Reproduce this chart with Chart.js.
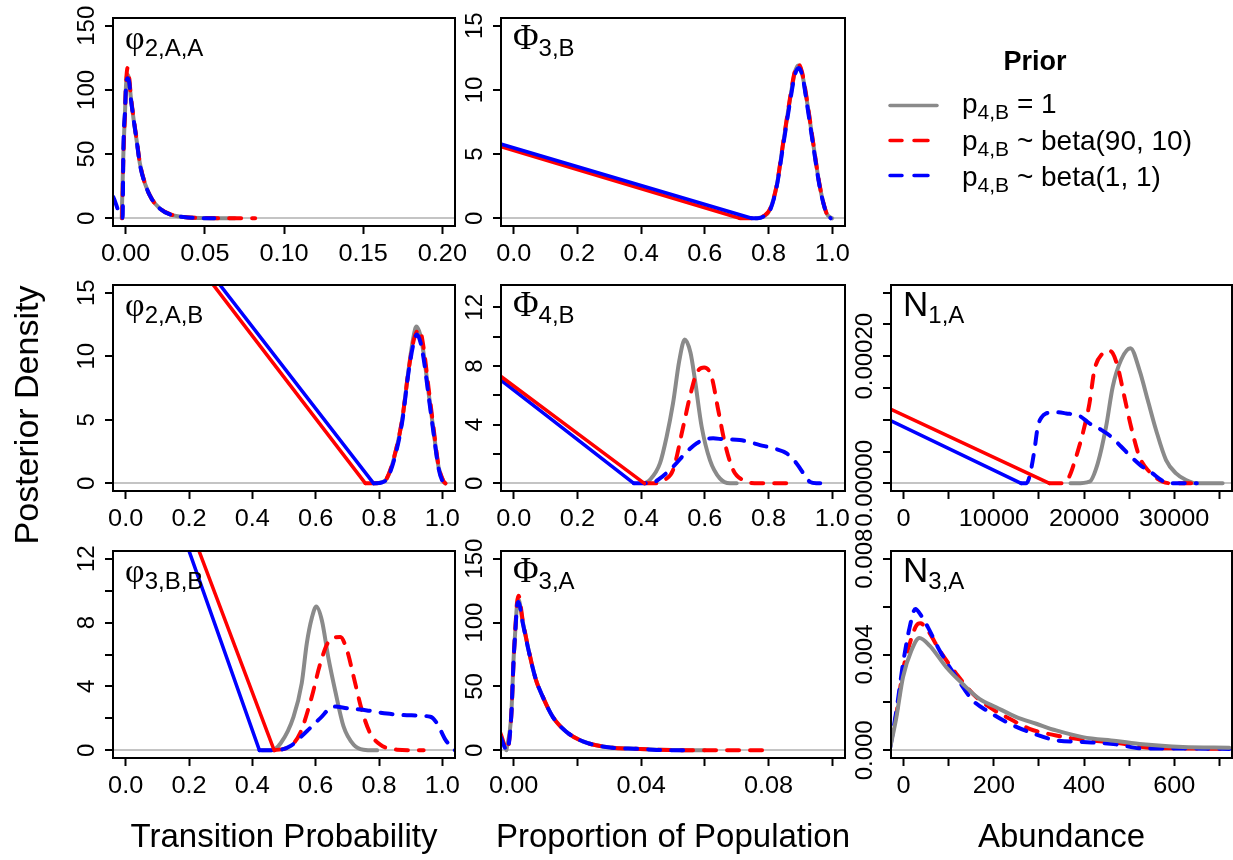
<!DOCTYPE html>
<html>
<head>
<meta charset="utf-8">
<script src="https://cdn.jsdelivr.net/npm/chart.js@4.4.1/dist/chart.umd.min.js"></script>
<style>
  body { margin: 0; background: #fff; width: 1233px; height: 860px; position: relative; overflow: hidden; }
  canvas { position: absolute; }
  #txt { position: absolute; left: 0; top: 0; pointer-events: none; font-family: Liberation Sans, Arial, sans-serif; }
</style>
</head>
<body>
<script>
// ---------- data ----------
const GRAY = '#8a8a8a', RED = '#ff0000', BLUE = '#0000ff';

// phi 2,A,A
const p1_xTicks = [0, 0.05, 0.10, 0.15, 0.20];
const p1_xLabels = ['0.00', '0.05', '0.10', '0.15', '0.20'];
const p1_yTicks = [0, 50, 100, 150];
const p1_yLabels = ['0', '50', '100', '150'];
const p1_gray = [[-0.0025,0],[-0.0015,48],[-0.0004,83],[0.0002,103],[0.0012,112],[0.0022,108],[0.0032,95],[0.0048,79],[0.007,60],[0.009,42.5],[0.0122,27],[0.0165,15],[0.0217,7.5],[0.028,3],[0.0365,1],[0.047,0.2],[0.069,0]];
const p1_red = [[-0.0022,0],[-0.0015,45],[-0.0004,82],[0.0002,104],[0.0012,117],[0.0022,110],[0.0032,96],[0.0048,80],[0.007,61],[0.009,43],[0.0122,27],[0.0165,15],[0.0217,7.5],[0.028,3.2],[0.0365,1],[0.047,0.3],[0.06,0.05],[0.0818,0]];
const p1_blue = [[-0.0078,16.6],[-0.0019,0.5],[-0.0015,50],[-0.0004,84],[0.0002,102],[0.0012,109],[0.0022,106],[0.0032,94],[0.0048,79],[0.007,60],[0.009,42],[0.0122,27],[0.0165,15],[0.0217,7.5],[0.028,3],[0.0365,1],[0.047,0.2],[0.056,0]];

// Phi 3,B
const p2_xTicks = [0, 0.2, 0.4, 0.6, 0.8, 1.0];
const p2_xLabels = ['0.0', '0.2', '0.4', '0.6', '0.8', '1.0'];
const p2_yTicks = [0, 5, 10, 15];
const p2_yLabels = ['0', '5', '10', '15'];
const p2_redLine = [[-0.041,5.58],[0.71,0]];
const p2_blueLine = [[-0.041,5.79],[0.747,0]];
const p2_gray = [[0.76,0],[0.785,0.15],[0.804,0.65],[0.825,2.46],[0.846,5.84],[0.867,9.2],[0.882,11.3],[0.893,11.9],[0.905,11.3],[0.92,9.2],[0.94,5.84],[0.961,2.46],[0.982,0.39],[1.0,0]];
const p2_red = [[0.71,0],[0.76,0],[0.785,0.18],[0.804,0.7],[0.825,2.5],[0.846,5.9],[0.867,9.3],[0.882,11.4],[0.893,12.0],[0.905,11.4],[0.92,9.3],[0.94,5.9],[0.961,2.5],[0.982,0.4],[0.998,0]];
const p2_blue = [[0.747,0],[0.765,0],[0.785,0.15],[0.804,0.6],[0.825,2.4],[0.846,5.7],[0.867,9.0],[0.882,11.1],[0.895,11.7],[0.907,11.0],[0.92,9.0],[0.94,5.7],[0.961,2.4],[0.982,0.38],[0.995,0]];

// phi 2,A,B
const p3_xTicks = [0, 0.2, 0.4, 0.6, 0.8, 1.0];
const p3_xLabels = ['0.0', '0.2', '0.4', '0.6', '0.8', '1.0'];
const p3_yTicks = [0, 5, 10, 15];
const p3_yLabels = ['0', '5', '10', '15'];
const p3_redLine = [[0.2,18.1],[0.757,0]];
const p3_blueLine = [[0.2,18.75],[0.783,0]];
const p3_gray = [[0.785,0],[0.81,0.1],[0.825,0.39],[0.846,1.83],[0.873,4.96],[0.893,8.88],[0.908,11.4],[0.918,12.33],[0.93,11.7],[0.941,10.2],[0.957,7.05],[0.972,4.18],[0.988,1.3],[1.004,0.13],[1.01,0]];
const p3_red = [[0.757,0],[0.79,0],[0.81,0.12],[0.825,0.42],[0.846,1.9],[0.873,5.0],[0.893,8.8],[0.91,11.3],[0.928,12.1],[0.94,10.8],[0.957,7.4],[0.972,4.4],[0.988,1.4],[1.004,0.15],[1.01,0]];
const p3_blue = [[0.783,0],[0.81,0.08],[0.825,0.35],[0.846,1.7],[0.873,4.8],[0.893,8.7],[0.91,11.1],[0.92,11.7],[0.932,11.0],[0.941,9.8],[0.957,6.8],[0.972,4.0],[0.988,1.2],[1.002,0.1],[1.008,0]];

// Phi 4,B
const p4_xTicks = [0, 0.2, 0.4, 0.6, 0.8, 1.0];
const p4_xLabels = ['0.0', '0.2', '0.4', '0.6', '0.8', '1.0'];
const p4_yTicks = [0, 2, 4, 6, 8, 10, 12];
const p4_yLabels = ['0', '', '4', '', '8', '', '12'];
const p4_redLine = [[-0.041,7.3],[0.41,0]];
const p4_blueLine = [[-0.041,7.05],[0.377,0]];
const p4_gray = [[0.41,0],[0.427,0.23],[0.459,1.36],[0.48,3.18],[0.50,5.45],[0.52,8.4],[0.537,9.8],[0.555,8.9],[0.569,7.04],[0.59,3.86],[0.616,1.59],[0.647,0.34],[0.679,0],[0.70,0]];
const p4_red = [[0.41,0],[0.45,0],[0.475,0.25],[0.50,0.9],[0.532,3.86],[0.553,5.9],[0.574,7.5],[0.598,7.9],[0.621,7.27],[0.642,5.0],[0.663,2.73],[0.689,0.9],[0.72,0.22],[0.77,0],[0.857,0]];
const p4_blue = [[0.377,0],[0.43,0],[0.459,0.34],[0.50,1.13],[0.543,2.15],[0.574,2.73],[0.60,3.0],[0.626,3.07],[0.66,3.0],[0.71,2.95],[0.773,2.61],[0.815,2.39],[0.857,2.04],[0.888,1.36],[0.909,0.7],[0.93,0.1],[0.95,0],[0.98,0]];

// N 1,A
const p5_xTicks = [0, 5000, 10000, 15000, 20000, 25000, 30000, 35000];
const p5_xLabels = ['0', '', '10000', '', '20000', '', '30000', ''];
const p5_yTicks = [0, 0.00005, 0.0001, 0.00015, 0.0002, 0.00025, 0.0003];
const p5_yLabels = ['0.00000', '', '', '', '0.00020', '', ''];
const p5_redLine = [[-1400,0.0001165],[16170,0]];
const p5_blueLine = [[-1400,0.0000985],[13030,0]];
const p5_gray = [[18500,0],[19120,0],[20600,0.0000026],[21520,0.0000315],[22440,0.0000891],[23180,0.000152],[24100,0.000194],[25140,0.0002124],[26140,0.0001783],[27060,0.0001311],[27980,0.0000839],[29090,0.0000367],[30200,0.0000157],[31300,0.0000052],[32410,0],[35360,0]];
const p5_red = [[16170,0],[17600,0],[18350,0.0000105],[19120,0.0000419],[19860,0.0000787],[20600,0.0001259],[21150,0.0001783],[22070,0.0002046],[22620,0.0002088],[23180,0.0002046],[23730,0.0001835],[24470,0.0001363],[25210,0.0000891],[26140,0.0000419],[27240,0.0000183],[28720,0.0000026],[30000,0],[32410,0]];
const p5_blue = [[13030,0],[13600,0],[13950,0.0000105],[14500,0.0000524],[14870,0.0000891],[15300,0.000104],[15800,0.000110],[16800,0.000112],[18020,0.000110],[19500,0.000106],[20600,0.0000944],[21800,0.000085],[23000,0.0000734],[24100,0.000058],[25210,0.0000419],[26300,0.000028],[27430,0.0000173],[28900,0.0000026],[30000,0],[32500,0]];

// phi 3,B,B
const p6_xTicks = [0, 0.2, 0.4, 0.6, 0.8, 1.0];
const p6_xLabels = ['0.0', '0.2', '0.4', '0.6', '0.8', '1.0'];
const p6_yTicks = [0, 2, 4, 6, 8, 10, 12];
const p6_yLabels = ['0', '', '4', '', '8', '', '12'];
const p6_redLine = [[0.18,15.2],[0.469,0]];
const p6_blueLine = [[0.15,15.3],[0.4225,0]];
const p6_gray = [[0.43,0],[0.46,0],[0.49,0.46],[0.53,2.1],[0.556,4.2],[0.572,6.7],[0.588,8.3],[0.602,9.0],[0.62,8.1],[0.64,5.8],[0.662,3.7],[0.688,1.5],[0.72,0.35],[0.751,0.04],[0.794,0]];
const p6_red = [[0.469,0],[0.519,0.25],[0.551,1.08],[0.588,3.37],[0.614,5.4],[0.641,6.8],[0.678,7.1],[0.699,6.26],[0.72,4.6],[0.746,2.5],[0.772,1.08],[0.804,0.35],[0.857,0.04],[0.941,0]];
const p6_blue = [[0.4225,0],[0.47,0],[0.519,0.25],[0.572,1.2],[0.614,2.0],[0.656,2.74],[0.699,2.64],[0.762,2.5],[0.825,2.3],[0.888,2.2],[0.962,2.1],[0.983,1.7],[1.01,0.66],[1.04,0]];

// Phi 3,A
const p7_xTicks = [0, 0.02, 0.04, 0.06, 0.08, 0.10];
const p7_xLabels = ['0.00', '', '0.04', '', '0.08', ''];
const p7_yTicks = [0, 50, 100, 150];
const p7_yLabels = ['0', '50', '100', '150'];
const p7_gray = [[-0.0023,0],[-0.0008,27],[0,74],[0.0005,94],[0.001,113],[0.0015,118],[0.0028,101],[0.0049,75.8],[0.007,55],[0.0091,42],[0.0122,26.4],[0.0164,14.8],[0.0217,7],[0.029,2.6],[0.0396,1.1],[0.05,0.2],[0.06,0]];
const p7_red = [[-0.0042,13.5],[-0.0021,1],[-0.0008,26],[0,73],[0.0005,95],[0.001,115],[0.0015,121],[0.0028,102],[0.0049,76],[0.007,55],[0.0091,42],[0.0122,26.4],[0.0164,14.8],[0.0217,7],[0.029,2.6],[0.0396,1.1],[0.05,0.2],[0.06,0],[0.0795,0]];
const p7_blue = [[-0.0042,10.9],[-0.0021,0],[-0.0008,26],[0,73],[0.0005,93],[0.001,112],[0.0015,116],[0.0028,100],[0.0049,75.5],[0.007,55],[0.0091,42],[0.0122,26.4],[0.0164,14.8],[0.0217,7],[0.029,2.6],[0.0396,1.1],[0.0448,0.3],[0.0553,0]];

// N 3,A
const p8_xTicks = [0, 100, 200, 300, 400, 500, 600, 700];
const p8_xLabels = ['0', '', '200', '', '400', '', '600', ''];
const p8_yTicks = [0, 0.002, 0.004, 0.006, 0.008];
const p8_yLabels = ['0.000', '', '0.004', '', '0.008'];
const p8_gray = [[-29.5,0.00014],[-16,0.00139],[-1.5,0.00305],[17,0.00416],[35,0.00469],[57.6,0.00437],[94.6,0.00347],[131,0.00277],[168,0.00215],[205,0.0018],[250,0.00139],[294,0.00111],[338,0.00083],[397,0.00055],[471,0.00039],[530,0.00025],[619,0.00014],[722,0.00011]];
const p8_red = [[-29.5,0.00035],[-16,0.00153],[-1.5,0.00333],[13.3,0.00444],[28,0.0052],[37,0.0053],[54,0.00499],[80,0.00416],[117,0.00319],[153.5,0.00236],[190.5,0.0018],[235,0.00132],[279,0.0009],[338,0.00062],[397,0.00044],[471,0.00032],[545,0.00011],[619,0.00008],[722,0.00006]];
const p8_blue = [[-29.5,0.00014],[-16,0.00166],[-1.5,0.0036],[13.3,0.00513],[26,0.0059],[39,0.00562],[54,0.00513],[80,0.00416],[117,0.00305],[153.5,0.00208],[190.5,0.00159],[235,0.00111],[279,0.00076],[338,0.00042],[397,0.00035],[471,0.00025],[530,0.00008],[619,0.00008],[722,0.00006]];

const xTitles = ['Transition Probability', 'Proportion of Population', 'Abundance'];
const yTitle = 'Posterior Density';
const legendTitle = 'Prior';
const legendLabels = ['= 1', '~ beta(90, 10)', '~ beta(1, 1)'];

// ---------- layout ----------
const COLS = [[113, 455], [501, 845], [891, 1232]];
const ROWS = [[18, 226], [285, 491], [551, 758]];
const GAP_L = 70, GAP_T = 45, GAP_R = 30, GAP_B = 50;
const SANS = 'Liberation Sans, Arial, sans-serif';
const SERIF = 'Liberation Serif, Times New Roman, serif';
const DASH = [12, 11];

function curve(pts, color, dashed, order) {
  return { pts, color, dash: dashed ? DASH : [], width: 4, order };
}
function straight(pts, color, order) {
  return { pts, color, dash: [], width: 3.5, order };
}

const panels = [
  { col: 0, row: 0, sym: 'φ', sub: '2,A,A', xlim: [0, 0.2], ylim: [0, 150], xTicks: p1_xTicks, xLabels: p1_xLabels, yTicks: p1_yTicks, yLabels: p1_yLabels,
    series: [curve(p1_gray, GRAY, false, 5), curve(p1_red, RED, true, 4), curve(p1_blue, BLUE, true, 3)] },
  { col: 1, row: 0, sym: 'Φ', sub: '3,B', xlim: [0, 1], ylim: [0, 15], xTicks: p2_xTicks, xLabels: p2_xLabels, yTicks: p2_yTicks, yLabels: p2_yLabels,
    series: [straight(p2_redLine, RED, 2), straight(p2_blueLine, BLUE, 1), curve(p2_gray, GRAY, false, 5), curve(p2_red, RED, true, 4), curve(p2_blue, BLUE, true, 3)] },
  { col: 0, row: 1, sym: 'φ', sub: '2,A,B', xlim: [0, 1], ylim: [0, 15], xTicks: p3_xTicks, xLabels: p3_xLabels, yTicks: p3_yTicks, yLabels: p3_yLabels,
    series: [straight(p3_redLine, RED, 2), straight(p3_blueLine, BLUE, 1), curve(p3_gray, GRAY, false, 5), curve(p3_red, RED, true, 4), curve(p3_blue, BLUE, true, 3)] },
  { col: 1, row: 1, sym: 'Φ', sub: '4,B', xlim: [0, 1], ylim: [0, 13], xTicks: p4_xTicks, xLabels: p4_xLabels, yTicks: p4_yTicks, yLabels: p4_yLabels,
    series: [straight(p4_redLine, RED, 1), straight(p4_blueLine, BLUE, 2), curve(p4_gray, GRAY, false, 5), curve(p4_red, RED, true, 4), curve(p4_blue, BLUE, true, 3)] },
  { col: 2, row: 1, sym: 'N', sub: '1,A', xlim: [0, 35000], ylim: [0, 0.0003], xTicks: p5_xTicks, xLabels: p5_xLabels, yTicks: p5_yTicks, yLabels: p5_yLabels,
    series: [straight(p5_redLine, RED, 1), straight(p5_blueLine, BLUE, 2), curve(p5_gray, GRAY, false, 5), curve(p5_red, RED, true, 4), curve(p5_blue, BLUE, true, 3)] },
  { col: 0, row: 2, sym: 'φ', sub: '3,B,B', xlim: [0, 1], ylim: [0, 12], xTicks: p6_xTicks, xLabels: p6_xLabels, yTicks: p6_yTicks, yLabels: p6_yLabels,
    series: [straight(p6_redLine, RED, 2), straight(p6_blueLine, BLUE, 1), curve(p6_gray, GRAY, false, 5), curve(p6_red, RED, true, 4), curve(p6_blue, BLUE, true, 3)] },
  { col: 1, row: 2, sym: 'Φ', sub: '3,A', xlim: [0, 0.1], ylim: [0, 150], xTicks: p7_xTicks, xLabels: p7_xLabels, yTicks: p7_yTicks, yLabels: p7_yLabels,
    series: [curve(p7_gray, GRAY, false, 5), curve(p7_red, RED, true, 4), curve(p7_blue, BLUE, true, 3)] },
  { col: 2, row: 2, sym: 'N', sub: '3,A', xlim: [0, 700], ylim: [0, 0.008], xTicks: p8_xTicks, xLabels: p8_xLabels, yTicks: p8_yTicks, yLabels: p8_yLabels,
    series: [curve(p8_blue, BLUE, true, 3), curve(p8_red, RED, true, 4), curve(p8_gray, GRAY, false, 2)] }
];

// R-style 4% axis expansion
function expand(lim) {
  const d = (lim[1] - lim[0]) * 0.04;
  return [lim[0] - d, lim[1] + d];
}

// box round the plot region + tick labels drawn R-style
const frame = {
  id: 'frame',
  afterDraw(chart) {
    const { ctx, chartArea: a, scales: { x, y } } = chart;
    ctx.save();
    ctx.strokeStyle = '#000';
    ctx.lineWidth = 2;
    ctx.strokeRect(a.left, a.top, a.right - a.left, a.bottom - a.top);
    ctx.fillStyle = '#000';
    ctx.font = '23px "Liberation Sans", Arial, sans-serif';
    ctx.textAlign = 'center';
    ctx.textBaseline = 'alphabetic';
    x.ticks.forEach(t => {
      if (!t.label) return;
      ctx.save();
      ctx.translate(x.getPixelForValue(t.value), a.bottom + 35);
      ctx.scale(1.1, 1);
      ctx.fillText(t.label, 0, 0);
      ctx.restore();
    });
    ctx.font = '24px "Liberation Sans", Arial, sans-serif';
    y.ticks.forEach(t => {
      if (!t.label) return;
      ctx.save();
      ctx.translate(a.left - 19, y.getPixelForValue(t.value));
      ctx.rotate(-Math.PI / 2);
      ctx.fillText(t.label, 0, 0);
      ctx.restore();
    });
    ctx.restore();
  }
};

function drawPanel(p) {
  const [L, R] = COLS[p.col], [T, B] = ROWS[p.row];
  const cv = document.createElement('canvas');
  cv.width = R - L + GAP_L + GAP_R;
  cv.height = B - T + GAP_T + GAP_B;
  cv.style.left = (L - GAP_L) + 'px';
  cv.style.top = (T - GAP_T) + 'px';
  document.body.appendChild(cv);
  const [xmin, xmax] = expand(p.xlim), [ymin, ymax] = expand(p.ylim);

  new Chart(cv, {
    type: 'line',
    data: {
      datasets: p.series.map(s => ({
        data: s.pts.map(([x, y]) => ({ x, y })),
        borderColor: s.color,
        borderWidth: s.width,
        borderDash: s.dash,
        borderCapStyle: 'round',
        borderJoinStyle: 'round',
        cubicInterpolationMode: 'monotone',
        pointRadius: 0,
        fill: false,
        clip: 0,
        order: s.order
      }))
    },
    options: {
      responsive: false,
      animation: false,
      events: [],
      layout: { padding: { left: 0, top: GAP_T, right: GAP_R, bottom: 0 }, autoPadding: false },
      plugins: { legend: { display: false }, tooltip: { enabled: false } },
      scales: {
        x: {
          type: 'linear', min: xmin, max: xmax,
          afterBuildTicks: s => { s.ticks = p.xTicks.map(v => ({ value: v })); },
          afterFit: s => { s.height = GAP_B; s.paddingLeft = 0; s.paddingRight = 0; },
          ticks: { display: false, callback: (v, i) => p.xLabels[i] },
          grid: { drawOnChartArea: false, tickLength: 8, tickWidth: 2, tickColor: '#000' },
          border: { display: false }
        },
        y: {
          type: 'linear', min: ymin, max: ymax,
          afterBuildTicks: s => { s.ticks = p.yTicks.map(v => ({ value: v })); },
          afterFit: s => { s.width = GAP_L; s.paddingTop = 0; s.paddingBottom = 0; },
          ticks: { display: false, callback: (v, i) => p.yLabels[i] },
          grid: {
            color: c => (c.tick && c.tick.value === 0) ? '#c4c4c4' : 'rgba(0,0,0,0)',
            lineWidth: 2, tickLength: 8, tickWidth: 2, tickColor: '#000'
          },
          border: { display: false }
        }
      }
    },
    plugins: [frame]
  });
}

panels.forEach(drawPanel);

// ---------- text overlay: panel names, axis titles, legend ----------
let svg = '<svg id="txt" width="1233" height="860" xmlns="http://www.w3.org/2000/svg" style="white-space:pre">';
panels.forEach(p => {
  const L = COLS[p.col][0], T = ROWS[p.row][0];
  const isN = p.sym === 'N';
  const fam = isN ? SANS : SERIF;
  const size = isN ? 35 : (p.sym === 'Φ' ? 35 : 34);
  svg += `<text x="${L + 12}" y="${T + 31}" fill="#000"><tspan font-family="${fam}" font-size="${size}">${p.sym}</tspan>` +
         `<tspan font-family="${SANS}" font-size="24" dy="7">${p.sub}</tspan></text>`;
});
xTitles.forEach((t, i) => {
  const cx = (COLS[i][0] + COLS[i][1]) / 2;
  svg += `<text x="${cx}" y="847" text-anchor="middle" font-size="33" fill="#000">${t}</text>`;
});
svg += `<text transform="translate(38,415) rotate(-90)" text-anchor="middle" font-size="34" fill="#000">${yTitle}</text>`;

svg += `<text x="1035" y="69.5" text-anchor="middle" font-weight="bold" font-size="27" fill="#000">${legendTitle}</text>`;
const legColors = [GRAY, RED, BLUE];
const legBase = [113, 149.5, 186];
const legLineY = [105.5, 140.5, 175.5];
legendLabels.forEach((lab, i) => {
  const dash = i === 0 ? '' : 'stroke-dasharray="14 12" stroke-dashoffset="2"';
  svg += `<line x1="890" x2="937" y1="${legLineY[i]}" y2="${legLineY[i]}" stroke="${legColors[i]}" stroke-width="3.5" stroke-linecap="round" ${dash}/>`;
  svg += `<text x="962" y="${legBase[i]}" font-size="28" fill="#000">p<tspan font-size="21" dy="6">4,B</tspan><tspan dy="-6"> ${lab}</tspan></text>`;
});
svg += '</svg>';
document.body.insertAdjacentHTML('beforeend', svg);
</script>
</body>
</html>
